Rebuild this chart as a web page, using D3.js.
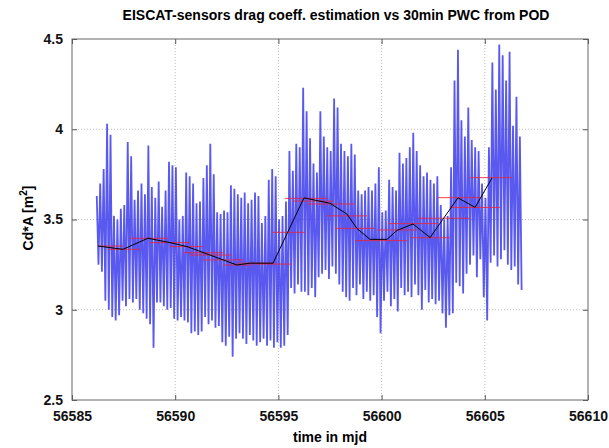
<!DOCTYPE html>
<html>
<head>
<meta charset="utf-8">
<script src="https://cdn.jsdelivr.net/npm/d3@7"></script>
<style>
  body { margin: 0; background: #fff; }
  text { font-family: "Liberation Sans", Arial, sans-serif; font-weight: bold; }
</style>
</head>
<body>
<div id="vis_canvas"></div>
<script>
var xTicks = [56585, 56590, 56595, 56600, 56605, 56610];
var yTicks = [2.5, 3, 3.5, 4, 4.5];

// sensor estimates, one value every 2 hours from blueT0
var blueT0 = 56586.2, blueDt = 1 / 12;
var blueVals = [
  3.63,3.25,3.70,3.21,3.78,3.05,4.03,3.00,3.97,2.96,3.52,2.94,
  3.50,2.97,3.56,3.05,3.58,3.02,3.93,3.06,3.85,3.04,3.61,3.06,
  3.66,3.00,3.70,2.98,3.64,2.95,3.91,2.92,3.68,2.79,3.62,3.04,
  3.71,3.04,3.57,3.02,3.66,3.00,3.82,3.01,3.80,2.95,3.79,2.94,
  3.50,2.96,3.52,2.94,3.76,2.93,3.74,2.87,3.70,2.88,3.59,2.86,
  3.60,2.88,3.73,2.96,3.80,2.92,3.92,2.94,3.75,2.90,3.54,2.91,
  3.53,2.82,3.55,2.80,3.54,2.85,3.69,2.74,3.67,2.84,3.64,2.87,
  3.62,2.84,3.65,2.81,3.59,2.86,3.61,2.83,3.65,2.80,3.63,2.82,
  3.48,2.84,3.52,2.80,3.72,2.83,3.78,2.79,3.74,2.82,3.50,2.79,
  3.52,2.80,3.60,2.86,3.88,3.12,3.77,3.09,3.92,3.14,3.90,3.10,
  4.23,3.10,4.10,3.08,3.95,3.12,3.81,3.07,3.76,3.18,4.10,3.20,
  3.96,3.22,3.90,3.17,3.88,3.24,4.17,3.20,4.12,3.14,3.92,3.10,
  3.88,3.07,3.85,3.05,3.92,3.12,3.86,3.08,3.66,3.14,3.64,3.06,
  3.66,3.10,3.68,3.05,3.66,3.08,3.70,2.96,3.79,2.87,3.54,3.05,
  3.55,3.10,3.72,3.02,3.68,3.06,3.66,2.99,3.87,3.12,3.81,3.08,
  3.84,3.10,3.90,3.07,3.98,3.14,3.88,3.08,3.80,3.00,3.74,3.11,
  3.76,3.04,3.72,3.06,3.70,3.03,3.74,3.05,3.58,2.98,3.50,2.90,
  3.52,2.97,3.79,2.98,4.27,3.15,4.44,3.13,4.05,3.09,3.96,3.20,
  4.12,3.25,3.94,3.30,3.90,3.18,3.88,3.28,3.70,3.07,3.62,2.94,
  3.90,3.26,4.37,3.30,4.22,3.24,4.47,3.28,4.41,3.33,4.27,3.25,
  4.43,3.22,4.02,3.24,4.18,3.14,3.96,3.11
];

// 30min PWC from POD: piecewise constant windows
var pwcStart = [56586.26,56586.74,56587.81,56588.78,56589.75,56590.38,56590.72,56591.35,56592.32,56592.99,
                56593.82,56594.69,56595.32,56595.71,56596.39,56597.35,56597.74,56598.71,56599.78,56600.31,
                56601.38,56601.76,56602.73,56603.31,56604.28];
var pwcEnd   = [56587.47,56588.29,56589.65,56590.72,56591.35,56592.32,56592.75,56593.28,56593.72,56594.79,
                56595.66,56596.29,56597.35,56597.65,56598.71,56599.29,56599.68,56601.23,56601.72,56602.73,
                56603.31,56604.28,56604.77,56605.74,56606.32];
var pwcVal   = [3.353,3.335,3.396,3.372,3.350,3.316,3.303,3.276,3.248,3.258,
                3.253,3.429,3.617,3.602,3.586,3.520,3.451,3.383,3.442,3.477,
                3.399,3.507,3.621,3.567,3.732];

// black line through the window centres
var lineT = [56586.26,56587.47,56588.68,56589.75,56590.57,56591.69,56592.99,56593.62,56594.74,56596.24,
             56597.50,56598.32,56598.81,56599.44,56600.26,56600.75,56601.52,56602.35,56603.70,56604.53,56605.35];
var lineV = [3.353,3.335,3.396,3.372,3.350,3.303,3.248,3.258,3.258,3.620,
             3.590,3.530,3.450,3.390,3.390,3.440,3.475,3.400,3.620,3.567,3.730];

var W = 609, H = 448;
var margin = {top: 39, right: 21, bottom: 48, left: 72};
var width = W - margin.left - margin.right,
    height = H - margin.top - margin.bottom;

var x = d3.scaleLinear().domain([56585, 56610]).range([0, width]);
var y = d3.scaleLinear().domain([2.5, 4.5]).range([height, 0]);

var svg = d3.select("#vis_canvas").append("svg")
    .attr("width", W)
    .attr("height", H);

var g = svg.append("g")
    .attr("transform", "translate(" + margin.left + "," + margin.top + ")");

// grid
g.selectAll(".vgrid").data(xTicks.slice(1, -1)).enter().append("line")
    .attr("x1", function (d) { return x(d); }).attr("x2", function (d) { return x(d); })
    .attr("y1", 0).attr("y2", height)
    .style("stroke", "#bdbdbd").style("stroke-dasharray", "1,2");
g.selectAll(".hgrid").data(yTicks.slice(1, -1)).enter().append("line")
    .attr("y1", function (d) { return y(d); }).attr("y2", function (d) { return y(d); })
    .attr("x1", 0).attr("x2", width)
    .style("stroke", "#bdbdbd").style("stroke-dasharray", "1,2");

// blue series
var blue = blueVals.map(function (v, i) { return {t: blueT0 + i * blueDt, v: v}; });
g.append("path")
    .datum(blue)
    .attr("fill", "none")
    .attr("stroke", "#2a2aea")
    .attr("stroke-opacity", 0.78)
    .attr("stroke-width", 1.8)
    .attr("stroke-linejoin", "miter")
    .attr("stroke-miterlimit", 1)
    .attr("d", d3.line().x(function (d) { return x(d.t); }).y(function (d) { return y(d.v); }));

// red windows
g.selectAll(".pwc").data(pwcVal).enter().append("line")
    .attr("x1", function (d, i) { return x(pwcStart[i]); })
    .attr("x2", function (d, i) { return x(pwcEnd[i]); })
    .attr("y1", function (d) { return y(d); })
    .attr("y2", function (d) { return y(d); })
    .style("stroke", "#ee2233")
    .style("stroke-opacity", 0.85)
    .style("stroke-width", 1);

// black line
g.append("path")
    .datum(lineT.map(function (t, i) { return {t: t, v: lineV[i]}; }))
    .attr("fill", "none")
    .attr("stroke", "#000")
    .attr("stroke-width", 1)
    .attr("d", d3.line().x(function (d) { return x(d.t); }).y(function (d) { return y(d.v); }));

// axes, ticks pointing inward
g.append("g")
    .attr("transform", "translate(0," + height + ")")
    .call(d3.axisBottom(x).tickValues(xTicks).tickSize(-5).tickPadding(11).tickFormat(d3.format("d")));
g.append("g")
    .call(d3.axisLeft(y).tickValues(yTicks).tickSize(-5).tickPadding(9).tickFormat(function (d) { return String(d); }));
g.append("g")
    .call(d3.axisTop(x).tickValues(xTicks).tickSize(-5).tickFormat(""));
g.append("g")
    .attr("transform", "translate(" + width + ",0)")
    .call(d3.axisRight(y).tickValues(yTicks).tickSize(-5).tickFormat(""));

g.selectAll(".domain").remove();
g.selectAll(".tick line").style("stroke", "#555");
g.selectAll(".tick text").style("font-size", "14px").style("fill", "#111");

// frame
g.append("rect")
    .attr("width", width).attr("height", height)
    .attr("fill", "none")
    .attr("stroke", "#666")
    .attr("stroke-width", 1);

// title and labels
svg.append("text")
    .attr("x", 336).attr("y", 20)
    .attr("text-anchor", "middle")
    .style("font-size", "14px")
    .text("EISCAT-sensors drag coeff. estimation vs 30min PWC from POD");

svg.append("text")
    .attr("x", margin.left + width / 2).attr("y", 442)
    .attr("text-anchor", "middle")
    .style("font-size", "14px")
    .text("time in mjd");

var ylab = svg.append("text")
    .attr("transform", "translate(33,218) rotate(-90)")
    .attr("text-anchor", "middle")
    .style("font-size", "14px");
ylab.append("tspan").text("Cd*A [m");
ylab.append("tspan").attr("dy", -6).style("font-size", "10px").text("2");
ylab.append("tspan").attr("dy", 6).text("]");
</script>
</body>
</html>
